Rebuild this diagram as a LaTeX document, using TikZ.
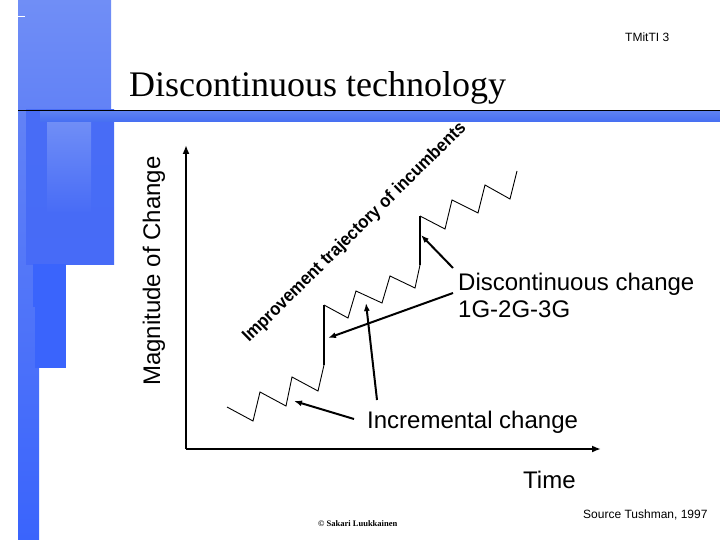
\documentclass[tikz,border=0pt]{standalone}
\usepackage{fontspec}
\setmainfont{Liberation Serif}
\setsansfont{Liberation Sans}
\usetikzlibrary{arrows.meta}
\definecolor{blA}{RGB}{112,142,246}
\definecolor{blB}{RGB}{98,130,246}
\definecolor{blC}{RGB}{72,108,246}
\definecolor{blD}{RGB}{58,100,252}
\definecolor{blE}{RGB}{92,128,242}
\definecolor{blF}{RGB}{70,110,242}
\tikzset{
  lbl/.style={inner sep=0pt, font=\sffamily\fontsize{24}{28}\selectfont},
  zig/.style={line width=0.9pt, line join=miter},
  jump/.style={line width=2pt},
  callout/.style={line width=2pt, -{Latex[length=8pt,width=6pt]}},
  axis/.style={line width=2pt, -{Latex[length=9pt,width=7pt]}},
}
\begin{document}
\begin{tikzpicture}[x=1pt,y=-1pt]
\useasboundingbox (0,0) rectangle (720,540);
% left decoration
\shade[top color=blA, bottom color=blB] (18,0) rectangle (111,110);
\draw[white, line width=0.8pt] (18,16.5) -- (25,16.5);
\shade[top color=blB, bottom color=blD] (18,110) rectangle (39,540);
\shade[top color=blC, bottom color=blC!90!blD] (26,110) rectangle (114,264);
\shade[top color=blA, bottom color=blC] (47,121) rectangle (91,212);
\fill[blD] (33,264) rectangle (58,307);
\fill[blD] (35,264) rectangle (66,368);
\shade[top color=blE, bottom color=blF] (40,112) rectangle (720,122);
\draw[black, line width=1.6pt] (18,110.5) -- (720,110.5);
% texts
\node[inner sep=0pt, anchor=base west, font=\fontsize{36}{40}\selectfont] (title) at (129,97) {Discontinuous technology};
\node[inner sep=0pt, anchor=base west, font=\sffamily\fontsize{12}{14}\selectfont] (tm) at (625,42) {TMitTI 3};
\node[lbl, anchor=base west, rotate=90] (ylab) at (160,386) {Magnitude of Change};
\node[lbl, anchor=base west] (xlab) at (523,488) {Time};
\node[inner sep=0pt, anchor=base west, rotate=44.5, xscale=0.93, font=\sffamily\bfseries\fontsize{18}{20}\selectfont] (traj) at (249,343) {Improvement trajectory of incumbents};
\node[lbl, anchor=base west] (disc) at (458,290) {Discontinuous change};
\node[lbl, anchor=base west] (disc2) at (458,317) {1G-2G-3G};
\node[lbl, anchor=base west] (incr) at (367,428.5) {Incremental change};
\node[inner sep=0pt, anchor=base west, font=\sffamily\fontsize{12}{14}\selectfont] (src) at (583,518.5) {Source Tushman, 1997};
\node[inner sep=0pt, anchor=base west, font=\bfseries\fontsize{8.5}{10}\selectfont] (copy) at (318,526.5) {© Sakari Luukkainen};
% axes
\coordinate (origin) at (186,449);
\coordinate (ytip) at (186,145);
\coordinate (xtip) at (601,449);
\draw[axis] (origin) -- (ytip);
\draw[axis] (origin) -- (xtip);
% zigzags
\coordinate (j1b) at (324,365);
\coordinate (j1t) at (324,305);
\coordinate (j2b) at (420,265);
\coordinate (j2t) at (420,216);
\draw[zig] (227,407) -- (253,421) -- (260,392) -- (286,406) -- (292,377) -- (318,391) -- (j1b);
\draw[jump] (j1b) -- (j1t);
\draw[zig] (j1t) -- (348,318) -- (356,291) -- (382,303) -- (390,276) -- (415,288) -- (j2b);
\draw[jump] (j2b) -- (j2t);
\draw[zig] (j2t) -- (445,229) -- (452,200) -- (478,213) -- (485,185) -- (510,199) -- (517,171);
% callouts
\coordinate (a1s) at (354,419);
\coordinate (a1e) at (294,401);
\coordinate (a2s) at (377,400);
\coordinate (a2e) at (366,303);
\coordinate (a3s) at (453,293);
\coordinate (a3e) at (328,338);
\coordinate (a4s) at (453,268);
\coordinate (a4e) at (421,235);
\draw[callout] (a1s) -- (a1e);
\draw[callout] (a2s) -- (a2e);
\draw[callout] (a3s) -- (a3e);
\draw[callout] (a4s) -- (a4e);
\end{tikzpicture}
\end{document}
